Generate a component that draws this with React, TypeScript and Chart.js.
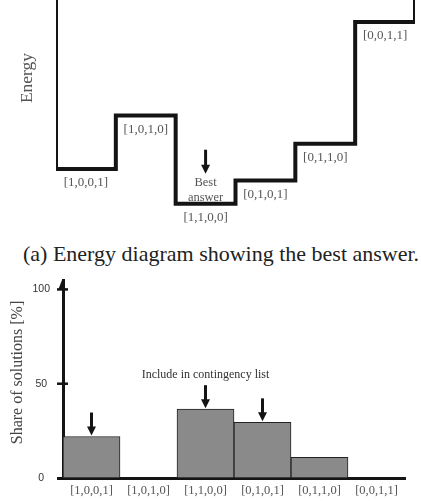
import React, { useEffect, useRef } from 'react';
import { Chart, registerables } from 'chart.js';

Chart.register(...registerables);

// ---- Data: energy diagram (a) ----
const energyStates = ['[1,0,0,1]', '[1,0,1,0]', '[1,1,0,0]', '[0,1,0,1]', '[0,1,1,0]', '[0,0,1,1]'];
const energyLevels = [19.5, 45, 3, 14, 31.5, 89.5];
const energyWall = 100;
const bestIndex = 2;

// ---- Data: share of solutions ----
const shareCategories = ['[1,0,0,1]', '[1,0,1,0]', '[1,1,0,0]', '[0,1,0,1]', '[0,1,1,0]', '[0,0,1,1]'];
const shareValues = [22, 0, 36.5, 29.5, 11, 0];
const shareTicks = [0, 50, 100];
const shareMax = 105;
const contingencyIdx = [0, 2, 3];

const SERIF = "'Liberation Serif', 'Times New Roman', serif";
const SANS = "'Liberation Sans', Arial, sans-serif";

function drawDownArrow(ctx: CanvasRenderingContext2D, x: number, yTop: number, yTip: number) {
  ctx.save();
  ctx.strokeStyle = '#141414';
  ctx.fillStyle = '#141414';
  ctx.lineWidth = 3;
  ctx.beginPath();
  ctx.moveTo(x, yTop);
  ctx.lineTo(x, yTip - 7);
  ctx.stroke();
  ctx.beginPath();
  ctx.moveTo(x - 4.5, yTip - 9);
  ctx.lineTo(x + 4.5, yTip - 9);
  ctx.lineTo(x, yTip);
  ctx.closePath();
  ctx.fill();
  ctx.restore();
}

function EnergyChart() {
  const ref = useRef<HTMLCanvasElement>(null);
  useEffect(() => {
    if (!ref.current) return;
    const points: { x: number; y: number }[] = [{ x: 0, y: energyWall }];
    energyLevels.forEach((v, i) => {
      points.push({ x: i, y: v });
      points.push({ x: i + 1, y: v });
    });
    points.push({ x: energyLevels.length, y: energyWall });

    const annot = {
      id: 'energyAnnot',
      afterDatasetsDraw(chart: any) {
        const ctx = chart.ctx as CanvasRenderingContext2D;
        const xs = chart.scales.x;
        const ys = chart.scales.y;
        ctx.save();
        ctx.fillStyle = '#555';
        ctx.font = `13px ${SERIF}`;
        ctx.textAlign = 'center';
        ctx.textBaseline = 'middle';
        energyStates.forEach((s, i) => {
          const x = xs.getPixelForValue(i + 0.5);
          const y = ys.getPixelForValue(energyLevels[i]) + 14;
          ctx.fillText(s, x, y);
        });
        const bx = xs.getPixelForValue(bestIndex + 0.5);
        const by = ys.getPixelForValue(energyLevels[bestIndex]);
        ctx.font = `12.5px ${SERIF}`;
        ctx.fillText('Best', bx, by - 21);
        ctx.fillText('answer', bx, by - 6);
        drawDownArrow(ctx, bx, by - 54, by - 30);
        // y axis title
        ctx.save();
        ctx.translate(27.5, 78);
        ctx.rotate(-Math.PI / 2);
        ctx.font = `17.5px ${SERIF}`;
        ctx.fillStyle = '#555';
        ctx.fillText('Energy', 0, 0);
        ctx.restore();
        ctx.restore();
      },
    };

    const chart = new Chart(ref.current, {
      type: 'line',
      data: {
        datasets: [
          {
            data: points,
            borderColor: '#141414',
            borderWidth: 4,
            pointRadius: 0,
            fill: false,
            tension: 0,
            borderJoinStyle: 'miter',
            borderCapStyle: 'butt',
          } as any,
        ],
      },
      options: {
        animation: false,
        responsive: false,
        events: [],
        layout: { padding: { left: 56, right: 6, top: 0, bottom: 20 } },
        plugins: { legend: { display: false }, tooltip: { enabled: false } },
        scales: {
          x: { type: 'linear', min: 0, max: energyLevels.length, display: false },
          y: { type: 'linear', min: 0, max: energyWall, display: false },
        },
      },
      plugins: [annot],
    });
    return () => chart.destroy();
  }, []);
  return <canvas ref={ref} width={421} height={230} style={{ position: 'absolute', left: 0, top: 0, width: 421, height: 230 }} />;
}

function ShareChart() {
  const ref = useRef<HTMLCanvasElement>(null);
  useEffect(() => {
    if (!ref.current) return;
    const annot = {
      id: 'shareAnnot',
      afterDraw(chart: any) {
        const ctx = chart.ctx as CanvasRenderingContext2D;
        const xs = chart.scales.x;
        const ys = chart.scales.y;
        const area = chart.chartArea;
        ctx.save();
        ctx.fillStyle = '#141414';
        ctx.strokeStyle = '#141414';
        // y axis arrow head
        const ax = area.left - 1;
        ctx.beginPath();
        ctx.moveTo(ax - 3.5, area.top + 9);
        ctx.lineTo(ax + 3.5, area.top + 9);
        ctx.lineTo(ax, area.top);
        ctx.closePath();
        ctx.fill();
        // crossing tick marks
        ctx.lineWidth = 2.5;
        shareTicks.forEach((v) => {
          if (v === 0) return;
          const y = ys.getPixelForValue(v);
          ctx.beginPath();
          ctx.moveTo(area.left - 6, y);
          ctx.lineTo(area.left + 5, y);
          ctx.stroke();
        });
        // x axis extension to the left
        ctx.lineWidth = 3;
        ctx.beginPath();
        ctx.moveTo(area.left - 6, area.bottom + 0.5);
        ctx.lineTo(area.left, area.bottom + 0.5);
        ctx.stroke();
        // arrows
        contingencyIdx.forEach((i) => {
          const x = xs.getPixelForValue(i);
          const tip = ys.getPixelForValue(shareValues[i]) - 1;
          drawDownArrow(ctx, x, tip - 23, tip);
        });
        // annotation text
        const cx = xs.getPixelForValue(2);
        const ty = ys.getPixelForValue(shareValues[2]) - 1 - 23 - 10;
        ctx.fillStyle = '#333';
        ctx.font = `12px ${SERIF}`;
        ctx.textAlign = 'center';
        ctx.textBaseline = 'middle';
        ctx.fillText('Include in contingency list', cx, ty);
        // y title
        ctx.save();
        ctx.translate(17.5, (area.top + area.bottom) / 2 - 6.5);
        ctx.rotate(-Math.PI / 2);
        ctx.font = `16px ${SERIF}`;
        ctx.fillStyle = '#444';
        ctx.fillText('Share of solutions [%]', 0, 0);
        ctx.restore();
        ctx.restore();
      },
    };

    const chart = new Chart(ref.current, {
      type: 'bar',
      data: {
        labels: shareCategories,
        datasets: [
          {
            data: shareValues,
            backgroundColor: '#8a8a8a',
            borderColor: '#222',
            borderWidth: 1,
            borderSkipped: false,
            barPercentage: 1,
            categoryPercentage: 1,
          } as any,
        ],
      },
      options: {
        animation: false,
        responsive: false,
        events: [],
        layout: { padding: { left: 0, right: 16, top: 20, bottom: 0 } },
        plugins: { legend: { display: false }, tooltip: { enabled: false } },
        scales: {
          x: {
            grid: { display: false, drawTicks: false },
            border: { display: true, width: 3, color: '#141414' },
            ticks: { font: { family: SERIF, size: 12.5 }, color: '#555', padding: 5, maxRotation: 0, autoSkip: false },
            afterFit: (s: any) => {
              s.height = 23;
            },
          },
          y: {
            min: 0,
            max: shareMax,
            grid: { display: false, drawTicks: false },
            border: { display: true, width: 3, color: '#141414' },
            afterBuildTicks: (s: any) => {
              s.ticks = shareTicks.map((v) => ({ value: v }));
            },
            ticks: { font: { family: SANS, size: 10.5 }, color: '#333', padding: 13, crossAlign: 'center' },
            afterFit: (s: any) => {
              s.width = 63;
            },
          },
        },
      },
      plugins: [annot],
    });
    return () => chart.destroy();
  }, []);
  return <canvas ref={ref} width={421} height={241} style={{ position: 'absolute', left: 0, top: 260, width: 421, height: 241 }} />;
}

export default function App() {
  return (
    <div style={{ position: 'absolute', left: 0, top: 0, width: 421, height: 501, background: '#fff', overflow: 'hidden' }}>
      <EnergyChart />
      <div
        style={{
          position: 'absolute',
          left: 23,
          top: 242,
          whiteSpace: 'nowrap',
          fontFamily: SERIF,
          fontSize: 22,
          lineHeight: '24px',
          color: '#222',
        }}
      >
        (a) Energy diagram showing the best answer.
      </div>
      <ShareChart />
    </div>
  );
}
